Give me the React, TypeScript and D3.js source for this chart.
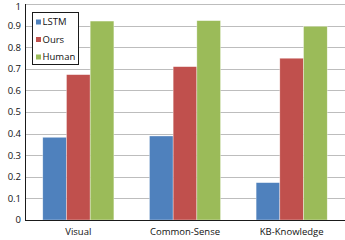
import React, { useEffect, useRef } from 'react'
import * as d3 from 'd3'

const categories = ['Visual', 'Common-Sense', 'KB-Knowledge']
const seriesNames = ['LSTM', 'Ours', 'Human']
const lstmValues = [0.383, 0.389, 0.173]
const oursValues = [0.673, 0.71, 0.749]
const humanValues = [0.921, 0.923, 0.897]
const yTicks = [0, 0.1, 0.2, 0.3, 0.4, 0.5, 0.6, 0.7, 0.8, 0.9, 1]
const colors = ['#4f81bd', '#c0504d', '#9bbb59']

const BarChart = () => {
  const chartRef = useRef<SVGSVGElement>(null)

  useEffect(() => {
    const width = 345
    const height = 240
    const left = 25
    const right = 345
    const top = 4
    const bottom = 220
    const font = "'Open Sans', sans-serif"

    const svg = d3.select(chartRef.current).attr('width', width).attr('height', height)
    svg.selectAll('*').remove()

    const rows = categories.map((c, i) => ({
      category: c,
      values: [lstmValues[i], oursValues[i], humanValues[i]],
    }))

    const x0 = d3.scaleBand().domain(categories).range([left, right]).padding(0)
    const x1 = d3
      .scaleBand()
      .domain(seriesNames)
      .range([0, x0.bandwidth()])
      .paddingInner(0)
      .paddingOuter(0.75)
    const y = d3.scaleLinear().domain([0, 1]).range([bottom, top])

    // gridlines
    svg
      .append('g')
      .selectAll('line')
      .data(yTicks.slice(1))
      .join('line')
      .attr('x1', left)
      .attr('x2', right)
      .attr('y1', (d) => Math.round(y(d)) + 0.5)
      .attr('y2', (d) => Math.round(y(d)) + 0.5)
      .attr('stroke', '#bdbdbd')
      .attr('stroke-width', 1)

    // bars
    svg
      .append('g')
      .selectAll('g')
      .data(rows)
      .join('g')
      .attr('transform', (d) => `translate(${x0(d.category)},0)`)
      .selectAll('rect')
      .data((d) => d.values.map((v, i) => ({ key: seriesNames[i], value: v, i })))
      .join('rect')
      .attr('x', (d) => x1(d.key)!)
      .attr('y', (d) => y(d.value))
      .attr('width', x1.bandwidth())
      .attr('height', (d) => bottom - y(d.value))
      .attr('fill', (d) => colors[d.i])
      .attr('stroke', 'rgba(255,255,255,0.6)')
      .attr('stroke-width', 0.6)

    // axes lines
    svg
      .append('line')
      .attr('x1', left + 0.5)
      .attr('x2', left + 0.5)
      .attr('y1', top)
      .attr('y2', bottom + 1)
      .attr('stroke', '#1a1a1a')
    svg
      .append('line')
      .attr('x1', left)
      .attr('x2', right)
      .attr('y1', bottom + 0.5)
      .attr('y2', bottom + 0.5)
      .attr('stroke', '#1a1a1a')

    // y labels
    svg
      .append('g')
      .selectAll('text')
      .data(yTicks)
      .join('text')
      .attr('x', 21)
      .attr('y', (d) => Math.max(y(d), 6.5))
      .attr('dy', '0.35em')
      .attr('text-anchor', 'end')
      .attr('font-family', font)
      .attr('font-size', 9.5)
      .attr('fill', '#111')
      .text((d) => d3.format('')(d))

    // x labels
    svg
      .append('g')
      .selectAll('text')
      .data(categories)
      .join('text')
      .attr('x', (d) => x0(d)! + x0.bandwidth() / 2)
      .attr('y', 232)
      .attr('dy', '0.35em')
      .attr('text-anchor', 'middle')
      .attr('font-family', font)
      .attr('font-size', 9.5)
      .attr('fill', '#111')
      .text((d) => d)

    // legend
    const legend = svg.append('g')
    legend
      .append('rect')
      .attr('x', 32.5)
      .attr('y', 12.5)
      .attr('width', 46)
      .attr('height', 52)
      .attr('fill', '#fff')
      .attr('stroke', '#1a1a1a')
    const item = legend
      .selectAll('g')
      .data(seriesNames)
      .join('g')
      .attr('transform', (d, i) => `translate(36,${22 + i * 17.5})`)
    item
      .append('rect')
      .attr('x', 0)
      .attr('y', -2.5)
      .attr('width', 5)
      .attr('height', 5)
      .attr('fill', (d, i) => colors[i])
    item
      .append('text')
      .attr('x', 6.5)
      .attr('y', 0)
      .attr('dy', '0.35em')
      .attr('font-family', font)
      .attr('font-size', 9.5)
      .attr('fill', '#111')
      .text((d) => d)
  }, [])

  return <svg ref={chartRef} style={{ position: 'absolute', left: 0, top: 0 }}></svg>
}

export default function App() {
  return <BarChart />
}
